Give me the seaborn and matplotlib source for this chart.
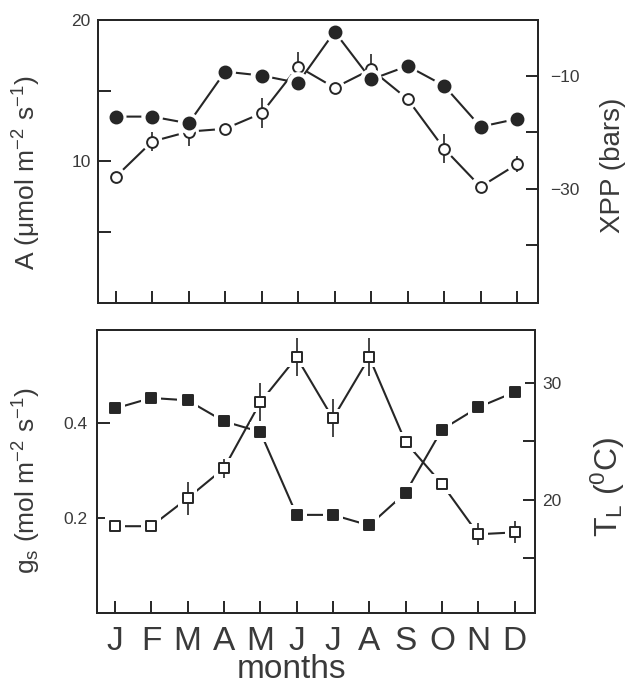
import numpy as np
import matplotlib
matplotlib.use("Agg")
import matplotlib.pyplot as plt
import seaborn as sns

# data
months = ["J", "F", "M", "A", "M", "J", "J", "A", "S", "O", "N", "D"]
photo_A = [8.9, 11.4, 12.1, 12.3, 13.4, 16.7, 15.2, 16.5, 14.4, 10.9, 8.2, 9.8]
photo_A_err = [0, 0.7, 1.0, 0, 1.05, 1.05, 0, 1.1, 0, 1.05, 0, 0.55]
xpp = [-17.2, -17.2, -18.4, -9.2, -9.9, -11.2, -2.1, -10.6, -8.2, -11.7, -19.0, -17.6]
gs = [0.183, 0.183, 0.242, 0.305, 0.444, 0.539, 0.410, 0.539, 0.360, 0.272, 0.166, 0.170]
gs_err = [0, 0, 0.035, 0.02, 0.04, 0.04, 0.04, 0.04, 0, 0, 0.023, 0.023]
leaf_T = [27.8, 28.7, 28.5, 26.7, 25.8, 18.7, 18.7, 17.8, 20.6, 26.0, 27.9, 29.2]

INK = "#262626"
TXT = "#3a3a3a"

sns.set_style("ticks")
plt.rcParams["font.family"] = ["Liberation Sans", "DejaVu Sans"]
plt.rcParams["mathtext.default"] = "regular"
plt.rcParams["axes.edgecolor"] = INK
plt.rcParams["axes.linewidth"] = 1.4
plt.rcParams["xtick.color"] = INK
plt.rcParams["ytick.color"] = INK
plt.rcParams["xtick.labelcolor"] = TXT
plt.rcParams["ytick.labelcolor"] = TXT

x = np.arange(len(months))


def draw_series(ax, y, err, marker, filled, ms):
    sns.lineplot(x=x, y=y, ax=ax, color=INK, lw=1.5, zorder=1)
    # white halo so the line stops short of each marker
    sns.scatterplot(x=x, y=y, ax=ax, marker=marker, s=(ms + 7) ** 2,
                    color="white", edgecolor="none", zorder=2)
    if err is not None:
        e = np.array(err, dtype=float)
        m = e > 0
        ax.errorbar(x[m], np.array(y)[m], yerr=e[m], fmt="none",
                    ecolor=INK, elinewidth=1.2, capsize=0, zorder=3)
    sns.scatterplot(x=x, y=y, ax=ax, marker=marker, s=ms ** 2,
                    color=INK if filled else "white", edgecolor=INK,
                    linewidth=1.4, zorder=4)


def style_axes(ax, tw):
    ax.set_xlim(-0.49, 11.57)
    ax.set_xticks(x)
    ax.tick_params(axis="x", direction="in", length=9, width=1.4, top=False)
    ax.tick_params(axis="y", direction="in", length=9, width=1.4, right=False)
    tw.tick_params(axis="y", direction="in", length=9, width=1.4)
    ax.set_facecolor("white")
    tw.patch.set_visible(False)
    for a in (ax, tw):
        a.set_xlabel("")
        a.set_ylabel("")
        for s in a.spines.values():
            s.set_visible(True)
            s.set_linewidth(1.4)
            s.set_color(INK)


fig = plt.figure(figsize=(6.35, 6.85), dpi=100)

# ---- top panel: A and XPP
ax1 = fig.add_axes([0.154, 0.558, 0.693, 0.413])
tw1 = ax1.twinx()
draw_series(ax1, photo_A, photo_A_err, "o", False, 7.8)
draw_series(tw1, xpp, None, "o", True, 8.6)
style_axes(ax1, tw1)
ax1.set_ylim(0, 20)
ax1.set_yticks([5, 10, 15, 20])
ax1.set_yticklabels(["", "10", "", "20"], fontsize=12.5)
ax1.tick_params(axis="y", pad=5)
tw1.set_ylim(-50.3, 0)
tw1.set_yticks([-40, -30, -20, -10])
tw1.set_yticklabels(["", "\u221230", "", "\u221210"], fontsize=12.5)
tw1.tick_params(axis="y", pad=9)
ax1.set_xticklabels([])

# ---- bottom panel: gs and leaf temperature
ax2 = fig.add_axes([0.153, 0.105, 0.690, 0.413])
tw2 = ax2.twinx()
draw_series(ax2, gs, gs_err, "s", False, 7.2)
draw_series(tw2, leaf_T, None, "s", True, 7.6)
style_axes(ax2, tw2)
ax2.set_ylim(0, 0.596)
ax2.set_yticks([0.2, 0.4])
ax2.set_yticklabels(["0.2", "0.4"], fontsize=12.5)
ax2.tick_params(axis="y", pad=7)
tw2.set_ylim(10.3, 34.5)
tw2.set_yticks([15, 20, 25, 30])
tw2.set_yticklabels(["", "20", "", "30"], fontsize=12.5)
tw2.tick_params(axis="y", pad=5)
ax2.set_xticklabels(months, fontsize=24)
ax2.tick_params(axis="x", pad=9)

# axis titles
fig.text(27 / 635, 1 - 173 / 685, "A (\u03bcmol m$^{-2}$ s$^{-1}$)", rotation=90,
         ha="center", va="center", fontsize=19, color=TXT)
fig.text(613 / 635, 1 - 165 / 685, "XPP (bars)", rotation=90,
         ha="center", va="center", fontsize=20, color=TXT)
fig.text(27 / 635, 1 - 481 / 685, "g$_s$ (mol m$^{-2}$ s$^{-1}$)", rotation=90,
         ha="center", va="center", fontsize=19, color=TXT)
fig.text(608 / 635, 1 - 487 / 685, "T$_L$ ($^0$C)", rotation=90,
         ha="center", va="center", fontsize=23, color=TXT)
fig.text(292 / 635, 1 - 678 / 685, "months", ha="center", va="baseline",
         fontsize=24, color=TXT)

fig.savefig("out.png", dpi=100)
